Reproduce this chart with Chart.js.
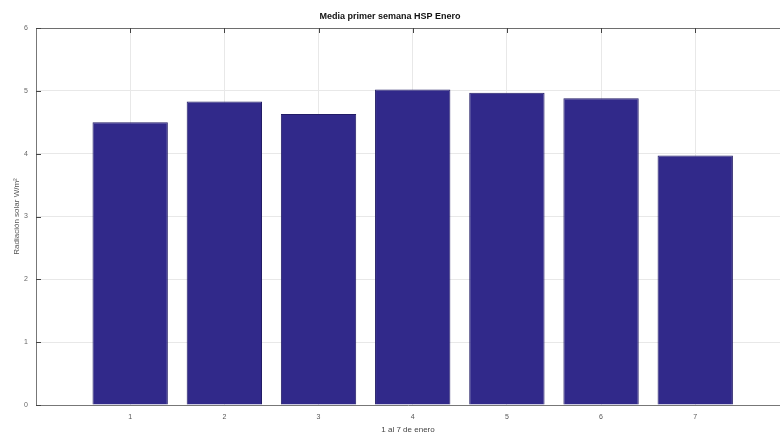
<!DOCTYPE html>
<html>
<head>
<meta charset="utf-8">
<script src="https://cdn.jsdelivr.net/npm/chart.js@4/dist/chart.umd.min.js"></script>
<style>
html,body{margin:0;padding:0;background:#fff;}
#wrap{width:780px;height:434px;position:relative;}
</style>
</head>
<body>
<div id="wrap"><canvas id="c" width="780" height="434"></canvas></div>
<script>
const days = [1, 2, 3, 4, 5, 6, 7];
const hspValues = [4.50, 4.83, 4.63, 5.02, 4.97, 4.88, 3.97];
const yTicks = [0, 1, 2, 3, 4, 5, 6];
const titleText = 'Media primer semana HSP Enero';
const xTitle = '1 al 7 de enero';
const yTitle = 'Radiación solar W/m²';

const points = days.map((d, i) => ({ x: d, y: hspValues[i] }));

const inwardTicks = {
  id: 'inwardTicks',
  afterDatasetsDraw(chart) {
    const ctx = chart.ctx, a = chart.chartArea;
    const xs = chart.scales.x, ys = chart.scales.y;
    ctx.save();
    ctx.strokeStyle = '#6e6e6e';
    ctx.lineWidth = 1;
    ctx.beginPath();
    ctx.moveTo(a.left, a.top + 0.5);
    ctx.lineTo(a.right, a.top + 0.5);
    ctx.stroke();
    ctx.strokeStyle = '#444';
    ctx.beginPath();
    days.forEach(d => {
      const px = Math.round(xs.getPixelForValue(d)) + 0.5;
      ctx.moveTo(px, a.top); ctx.lineTo(px, a.top + 5);
    });
    yTicks.forEach(v => {
      const py = Math.round(ys.getPixelForValue(v)) + 0.5;
      ctx.moveTo(a.left, py); ctx.lineTo(a.left + 5, py);
    });
    ctx.stroke();
    ctx.restore();
  }
};

new Chart(document.getElementById('c'), {
  type: 'bar',
  data: {
    datasets: [{
      data: points,
      backgroundColor: '#31298a',
      borderColor: '#221c66',
      borderWidth: 1,
      barPercentage: 0.8,
      categoryPercentage: 1.0
    }]
  },
  options: {
    responsive: false,
    animation: false,
    layout: { padding: { left: 0, right: 0, top: 0, bottom: 0 } },
    plugins: {
      legend: { display: false },
      tooltip: { enabled: false },
      title: {
        display: true,
        text: titleText,
        color: '#111',
        font: { family: 'Liberation Sans', size: 9, weight: 'bold', lineHeight: 1.2 },
        padding: { top: 11, bottom: 6.2 }
      }
    },
    scales: {
      x: {
        type: 'linear',
        offset: false,
        min: 0,
        max: 7.9,
        afterBuildTicks(scale) { scale.ticks = days.map(v => ({ value: v })); },
        afterFit(scale) { scale.height = 29; },
        grid: { color: '#e8e8e8', drawTicks: false, offset: false },
        border: { color: '#777', width: 1 },
        ticks: {
          color: '#555',
          font: { family: 'Liberation Sans', size: 7 },
          padding: 8,
          maxRotation: 0,
          callback: v => String(v)
        },
        title: {
          display: true,
          text: xTitle,
          color: '#444',
          font: { family: 'Liberation Sans', size: 8 },
          padding: { top: 0, bottom: -1 }
        }
      },
      y: {
        min: 0,
        max: 6,
        afterBuildTicks(scale) { scale.ticks = yTicks.map(v => ({ value: v })); },
        afterFit(scale) { scale.width = 36; },
        grid: { color: '#e8e8e8', drawTicks: false },
        border: { color: '#777', width: 1 },
        ticks: {
          color: '#666',
          font: { family: 'Liberation Sans', size: 7 },
          padding: 8
        },
        title: {
          display: true,
          text: yTitle,
          color: '#555',
          font: { family: 'Liberation Sans', size: 8 },
          padding: { top: 12, bottom: 0 }
        }
      }
    }
  },
  plugins: [inwardTicks]
});
</script>
</body>
</html>
